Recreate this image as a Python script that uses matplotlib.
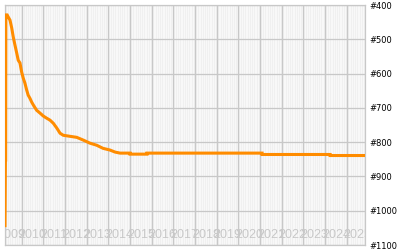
import matplotlib
matplotlib.use("Agg")
import matplotlib.pyplot as plt
import numpy as np

# rank history (fractional year, rank)
years = [2009.23, 2009.25, 2009.26, 2009.27, 2009.33, 2009.37, 2009.46, 2009.54,
         2009.61, 2009.69, 2009.77, 2009.84, 2009.92, 2010.00, 2010.07, 2010.15,
         2010.23, 2010.30, 2010.38, 2010.46, 2010.54, 2010.69, 2010.84, 2011.00,
         2011.15, 2011.31, 2011.46, 2011.62, 2011.77, 2011.92, 2012.23, 2012.54,
         2012.84, 2013.15, 2013.46, 2013.75, 2014.07, 2014.31, 2014.54, 2015.00,
         2015.00, 2015.78, 2015.78, 2021.09, 2021.09, 2024.23, 2024.23, 2025.84]
ranks = [1048, 852, 852, 429, 429, 434, 444, 467,
         493, 517, 540, 561, 569, 596, 613, 628,
         648, 663, 672, 683, 692, 707, 715, 724,
         730, 736, 745, 759, 774, 780, 783, 786,
         794, 803, 809, 818, 823, 829, 832, 832,
         835, 835, 832, 832, 836, 836, 839, 839]

year_labels = [str(y) for y in range(2009, 2026)]
rank_ticks = [400, 500, 600, 700, 800, 900, 1000, 1100]

fig = plt.figure(figsize=(4, 2.5), dpi=100)
ax = fig.add_axes([0.0125, 0.02, 0.9, 0.96])
ax.set_facecolor('#f0f0f0')

# minor white stripes (monthly)
for m in np.arange(2009.0, 2026.0, 1 / 12):
    ax.axvline(m, color='white', lw=0.4, zorder=0.5)
# yearly grid
for y in range(2010, 2026):
    ax.axvline(y, color='#c8c8c8', lw=0.9, zorder=0.6)
for r in rank_ticks:
    ax.axhline(r, color='#c8c8c8', lw=0.9, zorder=0.6)

ax.plot(years, ranks, color='#ff8c00', lw=2.2, zorder=3,
        solid_joinstyle='miter', solid_capstyle='butt')

ax.set_xlim(2009.23, 2025.84)
ax.set_ylim(1100, 400)

for i, lab in enumerate(year_labels):
    ax.text(2009.5 + i, 1070, lab, ha='center', va='center', fontsize=9,
            family=['Liberation Sans'], color='#c8c8c8', clip_on=True, zorder=2)

ax.yaxis.tick_right()
ax.set_yticks(rank_ticks)
ax.set_yticklabels(['#%d' % r for r in rank_ticks], fontsize=6)
ax.tick_params(axis='y', length=0, pad=3)
ax.set_xticks([])
for s in ax.spines.values():
    s.set_color('#c8c8c8')
    s.set_linewidth(0.9)

fig.savefig('out.png', dpi=100)
